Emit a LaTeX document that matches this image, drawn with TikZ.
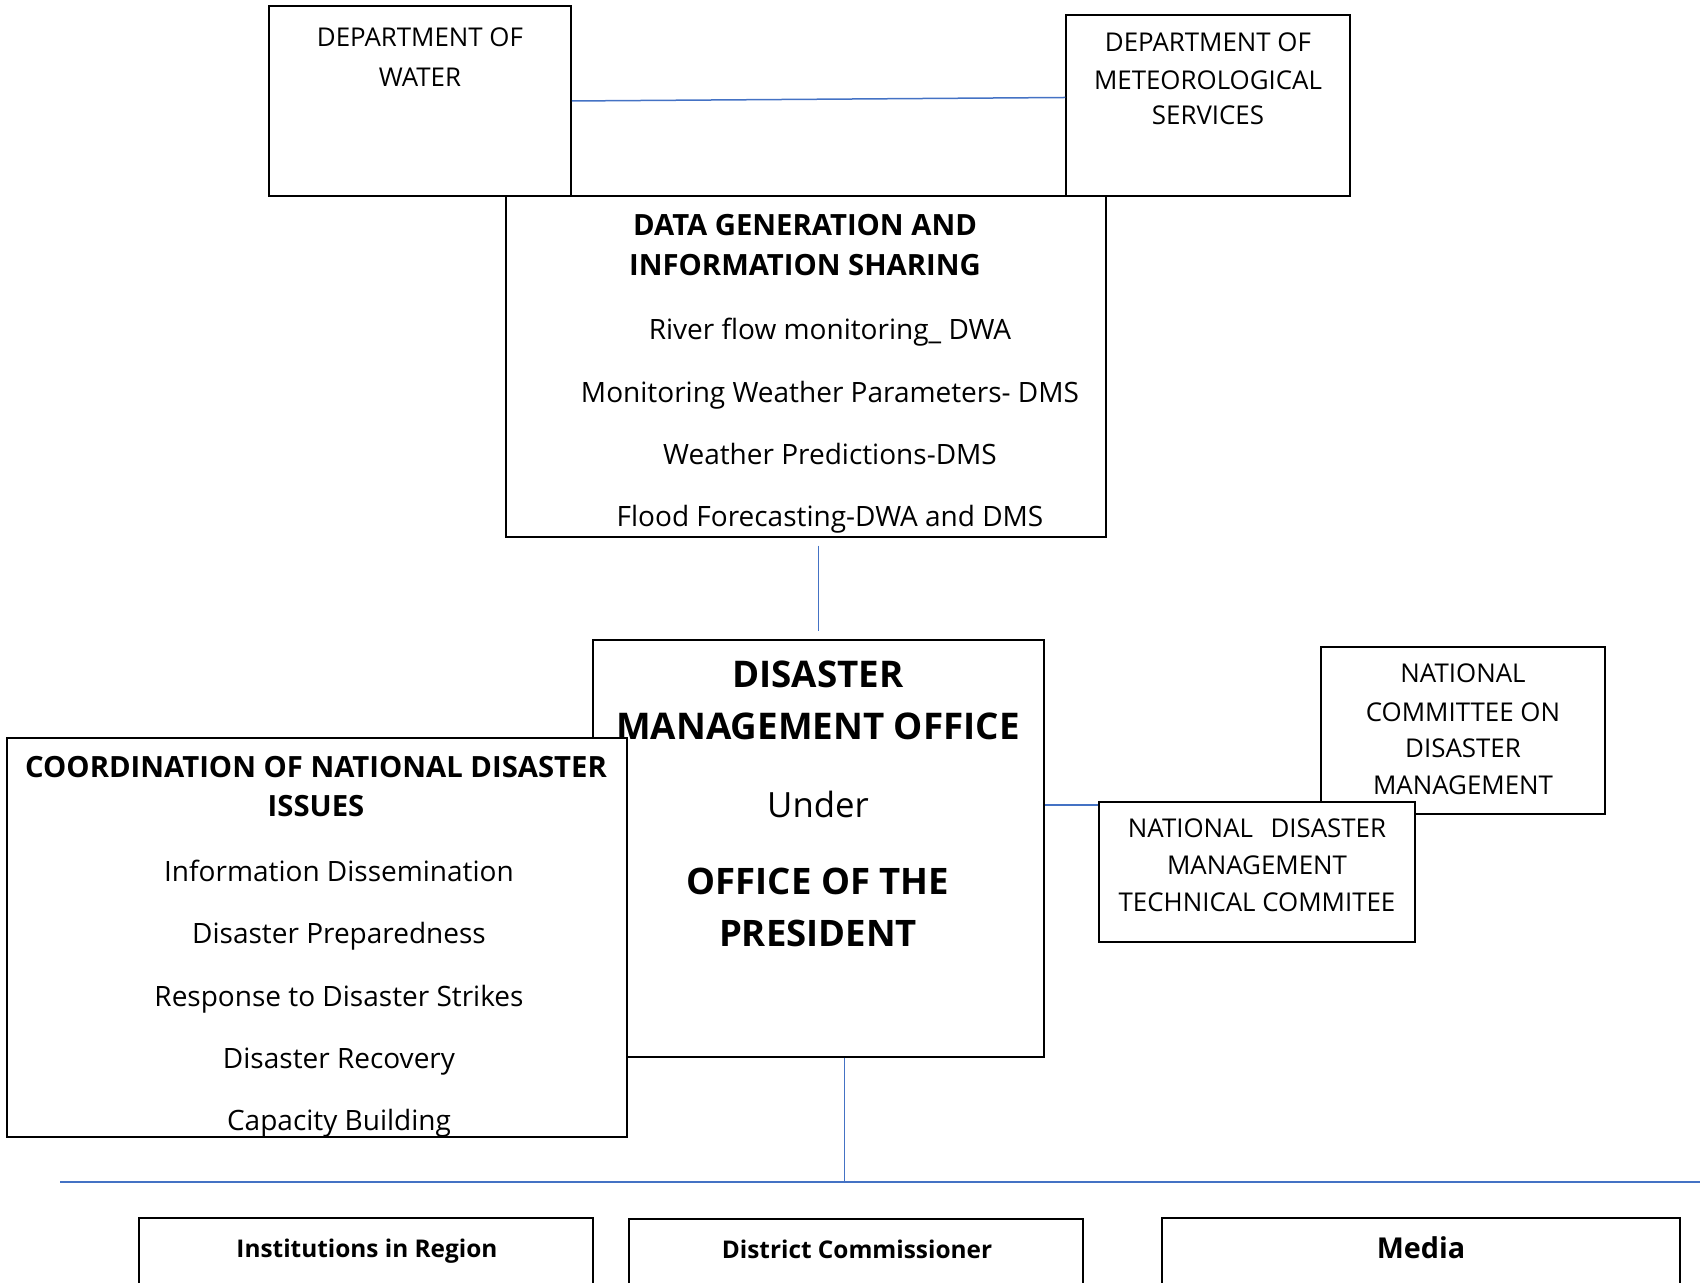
\documentclass[tikz,border=0pt]{standalone}
\usepackage{fontspec}
\setmainfont{Open Sans}
\usetikzlibrary{fit,calc}
\definecolor{linkblue}{RGB}{68,114,196}
\begin{document}
\begin{tikzpicture}[x=0.4pt,y=-0.4pt,
  box/.style={draw,fill=white,line width=0.6pt,inner sep=0pt},
  link/.style={linkblue,line width=0.6pt},
  txt/.style={anchor=base,inner sep=0pt,font=\fontsize{10.35}{12}\selectfont},
  itxt/.style={anchor=base,inner sep=0pt,font=\fontsize{11.2}{13}\selectfont},
  btxt/.style={anchor=base,inner sep=0pt,font=\fontsize{11.7}{13}\selectfont\bfseries}]
\useasboundingbox (0,0) rectangle (1700,1283);
% departments
\node[box,fit={(269,6) (571,196)}] (water) {};
\node[box,fit={(1066,15) (1350,196)}] (met) {};
\foreach \y/\t in {47/DEPARTMENT OF,87/WATER}
  \node[txt] (water\y) at (420,\y) {\t};
\foreach \y/\t in {52/DEPARTMENT OF,90/METEOROLOGICAL,125/SERVICES}
  \node[txt] (met\y) at (1208,\y) {\t};
\draw[link] (water.east) -- ($(met.west)+(0,-8)$);
% data generation
\node[box,fit={(506,196) (1106,537)}] (dg) {};
\foreach \y/\t in {236/DATA GENERATION AND,276/INFORMATION SHARING}
  \node[btxt] (dg\y) at (805,\y) {\t};
\foreach \y/\t in {340/River flow monitoring\_ DWA,403/Monitoring Weather Parameters- DMS,465/Weather Predictions-DMS,527/Flood Forecasting-DWA and DMS}
  \node[itxt] (dg\y) at (830,\y) {\t};
% disaster management office
\node[box,fit={(593,640) (1044,1057)}] (dmo) {};
\foreach \y/\t in {688/DISASTER,740/MANAGEMENT OFFICE}
  \node[btxt,font=\fontsize{14.7}{16}\selectfont\bfseries] (dmo\y) at (818,\y) {\t};
\node[itxt,font=\fontsize{13.9}{15}\selectfont] (under) at (818,818) {Under};
\foreach \y/\t in {895/OFFICE OF THE,947/PRESIDENT}
  \node[btxt,font=\fontsize{14.6}{16}\selectfont\bfseries] (dmo\y) at (818,\y) {\t};
\draw[link,shorten <=3.2pt,shorten >=3.2pt] (dg.south -| dmo.north) -- (dmo.north);
% coordination
\node[box,fit={(7,738) (627,1137)}] (coord) {};
\foreach \y/\t in {778/COORDINATION OF NATIONAL DISASTER,817/ISSUES}
  \node[btxt] (coord\y) at (316,\y) {\t};
\foreach \y/\t in {882/Information Dissemination,944/Disaster Preparedness,1006/Response to Disaster Strikes,1068/Disaster Recovery,1130/Capacity Building}
  \node[itxt] (coord\y) at (339,\y) {\t};
% committees
\node[box,fit={(1321,647) (1605,814)}] (ncdm) {};
\foreach \y/\t in {683/NATIONAL,722/COMMITTEE ON,758/DISASTER,795/MANAGEMENT}
  \node[txt] (ncdm\y) at (1463,\y) {\t};
\node[box,fit={(1099,802) (1415,942)}] (ndmtc) {};
\foreach \y/\t in {838/NATIONAL\hspace{7pt}DISASTER,875/MANAGEMENT,912/TECHNICAL COMMITEE}
  \node[txt] (ndmtc\y) at (1257,\y) {\t};
\draw[link] ([yshift=-1.6pt]ndmtc.north west) -- ([yshift=-1.6pt]ndmtc.north west -| dmo.east);
% regions
\coordinate (busL) at (60,1182);
\coordinate (busR) at (1700,1182);
\draw[link,line width=1pt] (busL) -- (busR);
\draw[link] ([xshift=10.4pt]dmo.south) -- ([xshift=10.4pt]dmo.south |- busL);
\node[box,fit={(139,1218) (593,1290)}] (inst) {};
\node[box,fit={(629,1219) (1083,1290)}] (dc) {};
\node[box,fit={(1162,1218) (1680,1290)}] (media) {};
\node[btxt,font=\fontsize{9.75}{11}\selectfont\bfseries] (instT) at (367,1257) {Institutions in Region};
\node[btxt,font=\fontsize{9.75}{11}\selectfont\bfseries] (dcT) at (857,1258) {District Commissioner};
\node[btxt,font=\fontsize{11.5}{13}\selectfont\bfseries] (mediaT) at (1421,1258) {Media};
\end{tikzpicture}
\end{document}
